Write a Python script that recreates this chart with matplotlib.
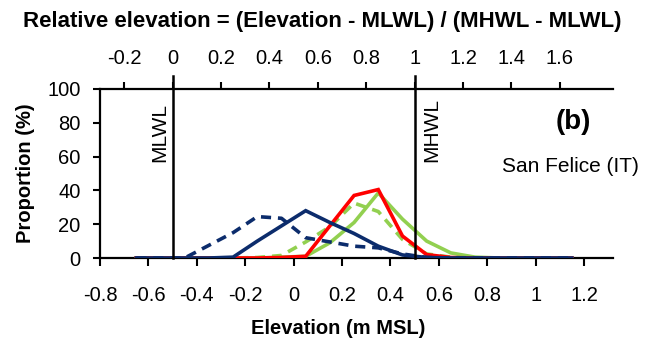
import matplotlib
matplotlib.use("Agg")
import matplotlib.pyplot as plt
import numpy as np

plt.rcParams['font.family'] = ['Liberation Sans', 'DejaVu Sans']

# Data
elevation = [-0.65, -0.55, -0.45, -0.35, -0.25, -0.15, -0.05, 0.05, 0.15, 0.25,
             0.35, 0.45, 0.55, 0.65, 0.75, 0.85, 0.95, 1.05, 1.15]
navy_solid = [0, 0, 0, 0, 0.5, 10, 19, 28, 21, 14.5, 7, 1.8, 0.3, 0, 0, 0, 0, 0, 0]
navy_dashed = [0, 0, 0, 7.5, 15, 24.5, 23.5, 12, 9.5, 7, 6, 2.4, 0.3, 0, 0, 0, 0, 0, 0]
red_solid = [0, 0, 0, 0, 0, 0, 0.3, 1, 19, 37, 40.5, 13, 2, 0.3, 0, 0, 0, 0, 0]
green_solid = [0, 0, 0, 0, 0, 0, 0.5, 1, 9, 21, 38.5, 23, 10, 3, 0.5, 0, 0, 0, 0]
green_dashed = [0, 0, 0, 0, 0, 0.3, 1.5, 9.5, 18.5, 32.5, 27.5, 11, 2.4, 0.5, 0, 0, 0, 0, 0]

MLWL = -0.5
MHWL = 0.5
bottom_ticks = [-0.8, -0.6, -0.4, -0.2, 0, 0.2, 0.4, 0.6, 0.8, 1, 1.2]
bottom_labels = ['-0.8', '-0.6', '-0.4', '-0.2', '0', '0.2', '0.4', '0.6', '0.8', '1', '1.2']
top_ticks = [-0.2, 0, 0.2, 0.4, 0.6, 0.8, 1, 1.2, 1.4, 1.6]
top_labels = ['-0.2', '0', '0.2', '0.4', '0.6', '0.8', '1', '1.2', '1.4', '1.6']
y_ticks = [0, 20, 40, 60, 80, 100]

W, H = 645, 340
fig = plt.figure(figsize=(W / 100, H / 100), dpi=100)
ax = fig.add_axes([100 / W, (H - 258) / H, (613 - 100) / W, (258 - 89) / H])

navy = '#0c2c6c'
green = '#92d050'
red = '#ff0000'
lw = 2.6
dash = (2.8, 1.9)

ax.plot(elevation, green_solid, color=green, lw=lw, solid_joinstyle='miter', zorder=3)
ax.plot(elevation, green_dashed, color=green, lw=lw, dashes=dash, zorder=3)
ax.plot(elevation, red_solid, color=red, lw=lw, solid_joinstyle='miter', zorder=4)
ax.plot(elevation, navy_dashed, color=navy, lw=lw, dashes=dash, zorder=5)
ax.plot(elevation, navy_solid, color=navy, lw=lw, solid_joinstyle='miter', zorder=6)

for xv in (MLWL, MHWL):
    ax.plot([xv, xv], [0, 107.5], color='black', lw=1.8, clip_on=False, zorder=7)

ax.set_xlim(-0.8, 1.32)
ax.set_ylim(0, 100)
ax.set_xticks(bottom_ticks)
ax.set_xticklabels(bottom_labels)
ax.set_yticks(y_ticks)
ax.tick_params(axis='x', direction='out', length=6, width=1.5, labelsize=14.5, pad=14)
ax.tick_params(axis='y', direction='out', length=5, width=1.5, labelsize=14.5, pad=9)
for s in ('right', 'top'):
    ax.spines[s].set_visible(False)
for s in ('left', 'bottom'):
    ax.spines[s].set_linewidth(1.6)

sec = ax.secondary_xaxis('top', functions=(lambda e: (e - MLWL) / (MHWL - MLWL),
                                           lambda r: r * (MHWL - MLWL) + MLWL))
sec.set_xticks(top_ticks)
sec.set_xticklabels(top_labels)
sec.tick_params(axis='x', direction='out', length=5, width=1.5, labelsize=14.5, pad=10)
sec.spines['top'].set_linewidth(1.6)

ax.set_ylabel('Proportion (%)', fontsize=14.5, fontweight='bold', labelpad=9)

fig.text(338 / W, 1 - 328 / H, 'Elevation (m MSL)', fontsize=14.5, fontweight='bold',
         ha='center', va='center')
fig.text(322 / W, 1 - 21 / H, 'Relative elevation = (Elevation - MLWL) / (MHWL - MLWL)',
         fontsize=16, fontweight='bold', ha='center', va='center')

ax.text(MLWL - 0.015, 74.5, 'MLWL', rotation=90, fontsize=15, ha='right', va='center')
ax.text(MHWL + 0.03, 75.5, 'MHWL', rotation=90, fontsize=15, ha='left', va='center')
fig.text(573 / W, 1 - 122 / H, '(b)', fontsize=20, fontweight='bold', ha='center', va='center')
fig.text(570 / W, 1 - 166 / H, 'San Felice (IT)', fontsize=15, ha='center', va='center')

fig.savefig('out.png', dpi=100)
